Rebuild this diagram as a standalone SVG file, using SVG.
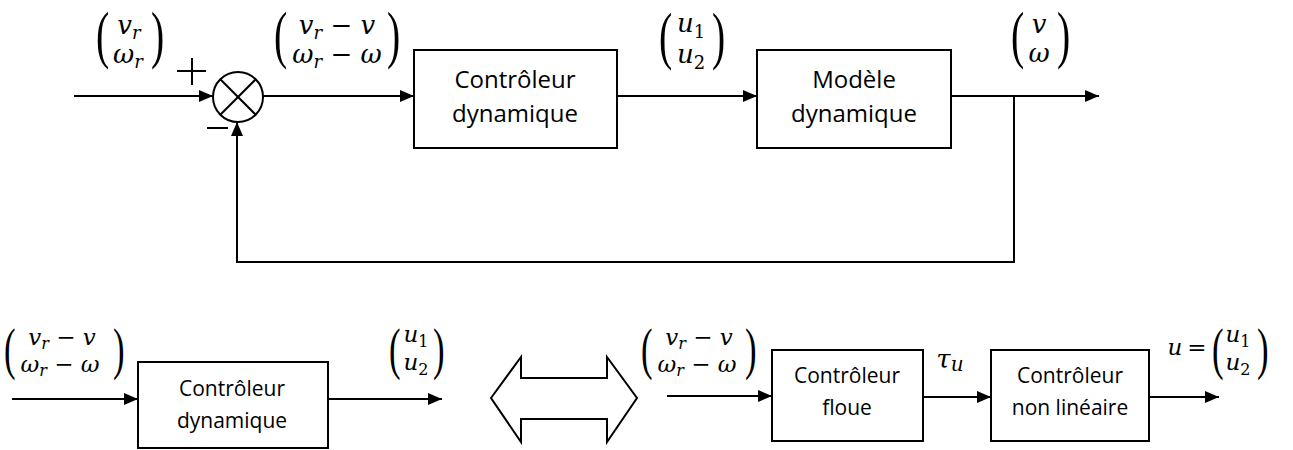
<svg xmlns="http://www.w3.org/2000/svg" width="1293" height="450" viewBox="0 0 1293 450">
<style>
.box{fill:#fff;stroke:#000;stroke-width:2}
.ln{fill:none;stroke:#000;stroke-width:2}
.arr{marker-end:url(#ah)}
.lbl{font-family:"Open Sans","Noto Sans",sans-serif;fill:#000;text-anchor:middle}
.big{font-size:24px}
.sm{font-size:21px}
.m{font-family:"DejaVu Serif","Liberation Serif",serif;font-style:italic;fill:#000;text-anchor:middle;font-size:26px}
.ms{font-size:23px}
.n{font-style:normal}
.par{font-family:"Liberation Serif","DejaVu Serif",serif;fill:#000;font-size:64px}
.parS{font-family:"Liberation Serif","DejaVu Serif",serif;fill:#000;font-size:56px}
</style>
<defs>
<marker id="ah" markerUnits="userSpaceOnUse" markerWidth="14" markerHeight="12" refX="14" refY="6" orient="auto">
<path d="M0,0 L14,6 L0,12 z" fill="#000"/>
</marker>
</defs>

<g id="connectors">
<line class="ln arr" x1="74" y1="96" x2="213" y2="96"/>
<line class="ln arr" x1="263" y1="96" x2="414" y2="96"/>
<line class="ln arr" x1="617" y1="96" x2="757" y2="96"/>
<line class="ln arr" x1="951" y1="96" x2="1099" y2="96"/>
<polyline class="ln arr" points="1014,96 1014,262 237,262 237,122"/>
<line class="ln arr" x1="12" y1="399" x2="138" y2="399"/>
<line class="ln arr" x1="328" y1="399" x2="442" y2="399"/>
<line class="ln arr" x1="667" y1="396" x2="772" y2="396"/>
<line class="ln arr" x1="923" y1="397" x2="991" y2="397"/>
<line class="ln arr" x1="1149" y1="397" x2="1219" y2="397"/>
</g>

<g id="sum">
<circle cx="238" cy="97" r="25" fill="#fff" stroke="#000" stroke-width="2"/>
<line class="ln" x1="220.3" y1="79.3" x2="255.7" y2="114.7"/>
<line class="ln" x1="255.7" y1="79.3" x2="220.3" y2="114.7"/>
<line class="ln" x1="177" y1="71" x2="206" y2="71"/>
<line class="ln" x1="192" y1="58" x2="192" y2="85"/>
<line class="ln" x1="207" y1="128" x2="228" y2="128"/>
</g>

<g id="ctrl1">
<rect class="box" x="414" y="50" width="203" height="98"/>
<text class="lbl big" x="515" y="88">Contrôleur</text>
<text class="lbl big" x="515" y="122">dynamique</text>
</g>

<g id="model">
<rect class="box" x="757" y="50" width="194" height="98"/>
<text class="lbl big" x="854" y="88">Modèle</text>
<text class="lbl big" x="854" y="122">dynamique</text>
</g>

<g id="ctrl2">
<rect class="box" x="138" y="362" width="190" height="86"/>
<text class="lbl sm" x="232" y="396">Contrôleur</text>
<text class="lbl sm" x="232" y="428">dynamique</text>
</g>

<g id="equiv">
<polygon points="491,398 521,357 521,378 607,378 607,357 637,398 607,442 607,419 521,419 521,442" fill="#fff" stroke="#000" stroke-width="2"/>
</g>

<g id="fuzzy">
<rect class="box" x="772" y="350" width="151" height="91"/>
<text class="lbl sm" x="847" y="383">Contrôleur</text>
<text class="lbl sm" x="847" y="415">floue</text>
</g>

<g id="nonlin">
<rect class="box" x="991" y="350" width="158" height="91"/>
<text class="lbl sm" x="1070" y="383">Contrôleur</text>
<text class="lbl sm" x="1070" y="415">non linéaire</text>
</g>

<g id="labels">
<!-- (vr; wr) -->
<text class="par" transform="translate(96,56) scale(0.62,1)">(</text>
<text class="par" transform="translate(151,56) scale(0.62,1)">)</text>
<text class="m" x="129" y="34">v<tspan font-size="18" dy="5">r</tspan></text>
<text class="m" x="128" y="63">ω<tspan font-size="18" dy="5">r</tspan></text>

<!-- (vr - v; wr - w) top -->
<text class="par" transform="translate(274,56) scale(0.62,1)">(</text>
<text class="par" transform="translate(387,56) scale(0.62,1)">)</text>
<text class="m" x="337" y="34">v<tspan font-size="18" dy="5">r</tspan><tspan class="n" dy="-5"> − </tspan>v</text>
<text class="m" x="337" y="63">ω<tspan font-size="18" dy="5">r</tspan><tspan class="n" dy="-5"> − </tspan>ω</text>

<!-- (u1; u2) top -->
<text class="par" transform="translate(659,57) scale(0.62,1)">(</text>
<text class="par" transform="translate(712,57) scale(0.62,1)">)</text>
<text class="m" x="691" y="32">u<tspan class="n" font-size="18" dy="6">1</tspan></text>
<text class="m" x="691" y="63">u<tspan class="n" font-size="18" dy="6">2</tspan></text>

<!-- (v; w) -->
<text class="par" transform="translate(1011,56) scale(0.62,1)">(</text>
<text class="par" transform="translate(1057,56) scale(0.62,1)">)</text>
<text class="m" x="1039" y="33">v</text>
<text class="m" x="1039" y="62">ω</text>

<!-- bottom left (vr - v; wr - w) -->
<text class="parS" transform="translate(4,368) scale(0.62,1)">(</text>
<text class="parS" transform="translate(113,368) scale(0.62,1)">)</text>
<text class="m ms" x="62" y="345">v<tspan font-size="16" dy="4">r</tspan><tspan class="n" dy="-4"> − </tspan>v</text>
<text class="m ms" x="60" y="372">ω<tspan font-size="16" dy="4">r</tspan><tspan class="n" dy="-4"> − </tspan>ω</text>

<!-- bottom (u1; u2) -->
<text class="parS" transform="translate(389,368) scale(0.62,1)">(</text>
<text class="parS" transform="translate(433,368) scale(0.62,1)">)</text>
<text class="m ms" x="416" y="342">u<tspan class="n" font-size="16" dy="5">1</tspan></text>
<text class="m ms" x="416" y="370">u<tspan class="n" font-size="16" dy="5">2</tspan></text>

<!-- bottom right (vr - v; wr - w) -->
<text class="parS" transform="translate(641,368) scale(0.62,1)">(</text>
<text class="parS" transform="translate(745,368) scale(0.62,1)">)</text>
<text class="m ms" x="699" y="345">v<tspan font-size="16" dy="4">r</tspan><tspan class="n" dy="-4"> − </tspan>v</text>
<text class="m ms" x="697" y="372">ω<tspan font-size="16" dy="4">r</tspan><tspan class="n" dy="-4"> − </tspan>ω</text>

<!-- tau_u -->
<text class="m" x="950" y="368">τ<tspan font-size="20" dy="3">u</tspan></text>

<!-- u = (u1; u2) -->
<text class="m ms" x="1175" y="355">u</text>
<text class="m ms n" x="1197" y="355">=</text>
<text class="parS" transform="translate(1212,368) scale(0.62,1)">(</text>
<text class="parS" transform="translate(1257,368) scale(0.62,1)">)</text>
<text class="m ms" x="1238" y="342">u<tspan class="n" font-size="16" dy="5">1</tspan></text>
<text class="m ms" x="1238" y="370">u<tspan class="n" font-size="16" dy="5">2</tspan></text>
</g>
</svg>
